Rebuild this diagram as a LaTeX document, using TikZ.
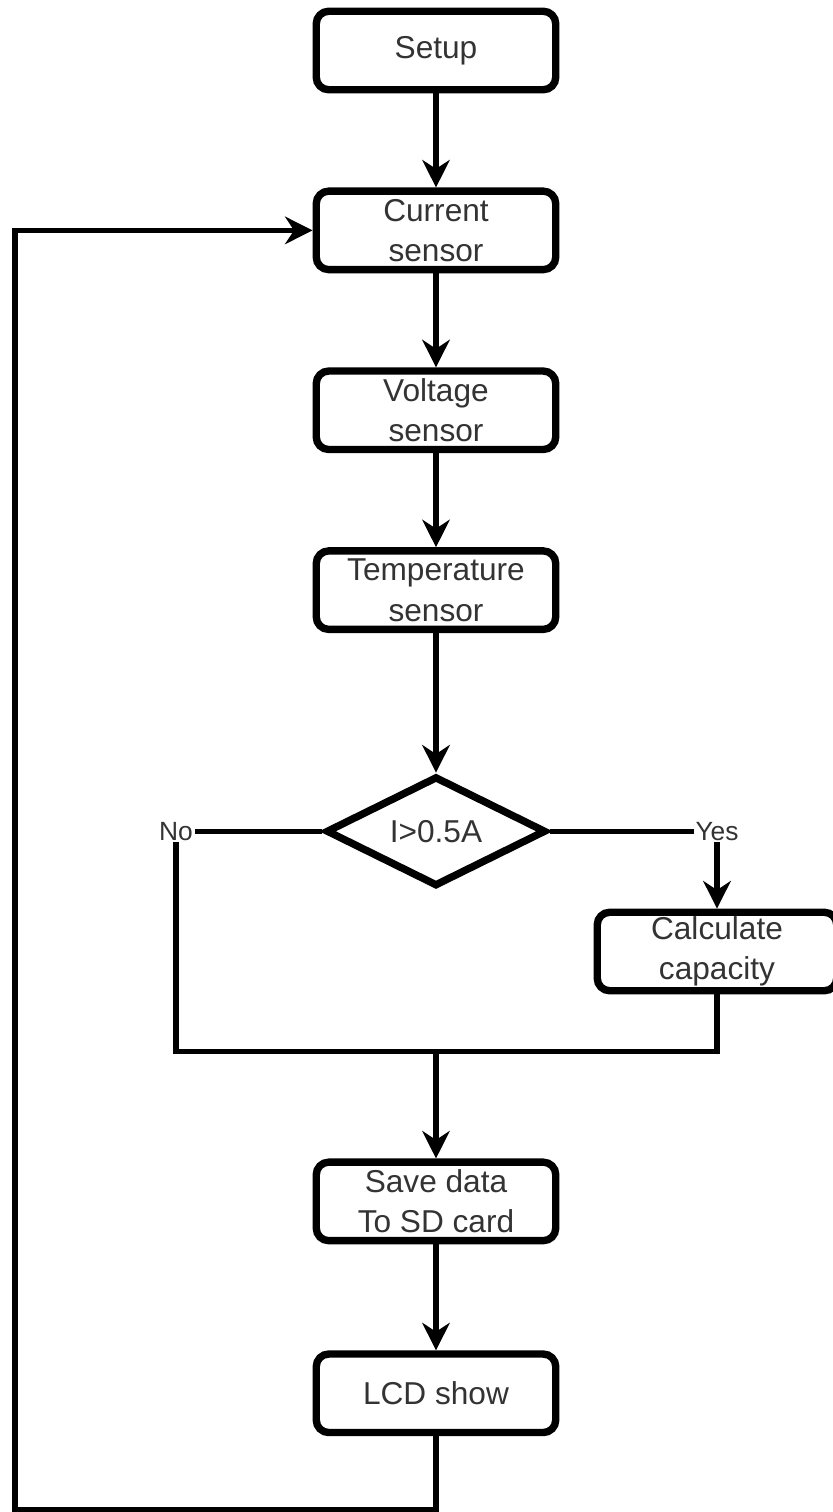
\documentclass[tikz,border=0pt]{standalone}
\usepackage{fontspec}
\setmainfont{Liberation Sans}
\usetikzlibrary{positioning}
\usetikzlibrary{shapes.geometric}
\usetikzlibrary{arrows.meta}

\tikzset{
  box/.style={draw, line width=4.2pt, rounded corners=0.25cm, minimum width=4.79cm,
    minimum height=1.57cm, align=center, inner sep=2pt,
    font=\fontsize{18}{23}\selectfont, text=black!80},
  decision/.style={draw, diamond, line width=4.2pt, aspect=2, inner sep=0pt,
    minimum width=4.4cm, minimum height=2.2cm,
    font=\fontsize{18}{23}\selectfont, text=black!80},
  link/.style={line width=3pt},
  lbl/.style={fill=white, inner sep=1pt, font=\fontsize{15}{17}\selectfont, text=black!80}
}

\begin{document}
\begin{tikzpicture}[>={Stealth[length=0.55cm, width=0.55cm]}, node distance = 1.88cm]
\useasboundingbox (0,0) rectangle (16.66,-30.24);
\node[box] (setup) at (8.72,-1.01) {Setup};
\node[box] (cur) [below = of setup] {Current\\sensor};
\node[box] (volt) [below = of cur] {Voltage\\sensor};
\node[box] (temp) [below = of volt] {Temperature\\sensor};
\node[decision] (dia) [below = 2.79cm of temp] {I>0.5A};
\node[box] (calc) at (14.34,-19.03) {Calculate\\capacity};
\coordinate[below = 3.23cm of dia] (merge);
\coordinate[left = 5.2cm of merge] (noend);
\node[box] (save) [below = 2.14cm of merge] {Save data\\To SD card};
\node[box] (lcd) [below = 2.12cm of save] {LCD show};
\coordinate[below = 1.46cm of lcd] (bot);
\coordinate[left = 8.42cm of bot] (lft);
% main chain
\draw[link, ->] (setup) -- (cur);
\draw[link, ->] (cur) -- (volt);
\draw[link, ->] (volt) -- (temp);
\draw[link, ->] (temp) -- (dia);
% branches
\draw[link, ->] (dia.east) -| node[lbl, midway]{Yes} (calc.north);
\draw[link] (dia.west) -| node[lbl, midway]{No} (noend) -| (calc.south);
\draw[link, ->] (merge) -- (save);
\draw[link, ->] (save) -- (lcd);
% loop back
\draw[link, ->] (lcd) -- (bot) -- (lft) |- (cur.west);
\end{tikzpicture}
\end{document}
